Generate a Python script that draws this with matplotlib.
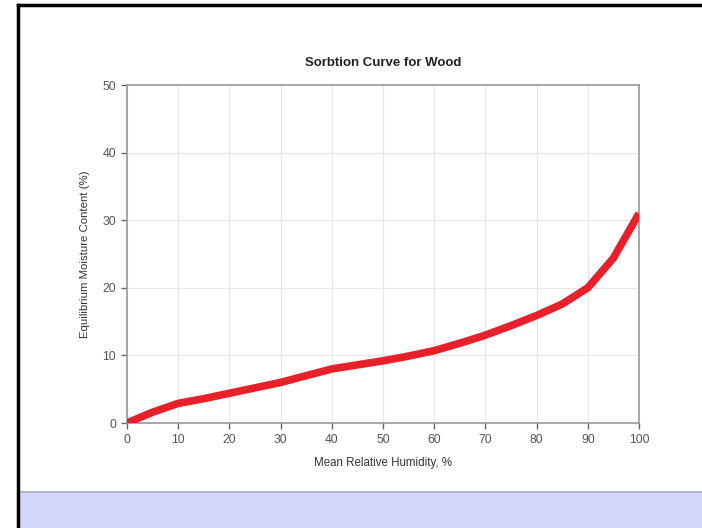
import matplotlib
matplotlib.use("Agg")
import matplotlib.pyplot as plt
from matplotlib.patches import Rectangle
from matplotlib.lines import Line2D

# data
humidity = [0, 5, 10, 15, 20, 25, 30, 35, 40, 45, 50, 55, 60, 65, 70, 75, 80, 85, 90, 95, 100]
moisture = [0, 1.6, 2.9, 3.6, 4.4, 5.2, 6.0, 7.0, 8.0, 8.6, 9.2, 9.9, 10.7, 11.8, 13.0, 14.4, 15.9, 17.6, 20.0, 24.4, 31.0]
x_ticks = [0, 10, 20, 30, 40, 50, 60, 70, 80, 90, 100]
y_ticks = [0, 10, 20, 30, 40, 50]

plt.rcParams['font.family'] = ['Liberation Sans', 'DejaVu Sans']

W, H = 702, 528
fig = plt.figure(figsize=(W / 100, H / 100), dpi=100)
fig.patch.set_facecolor('white')

# page frame + lavender strip at the bottom
fig.patches.append(Rectangle((18 / W, 0), 1, (H - 492) / H, transform=fig.transFigure,
                             facecolor='#d5d8fc', edgecolor='none', zorder=0))
fig.lines.append(Line2D([18 / W, 1], [(H - 492) / H] * 2, transform=fig.transFigure,
                        color='#b4b4c8', lw=1.5))
fig.lines.append(Line2D([17.5 / W, 17.5 / W], [0, (H - 4.5) / H], transform=fig.transFigure,
                        color='black', lw=2.5))
fig.lines.append(Line2D([17.5 / W, 1], [(H - 4.5) / H] * 2, transform=fig.transFigure,
                        color='black', lw=2.5))

ax = fig.add_axes([127 / W, (H - 423) / H, (639 - 127) / W, (423 - 85) / H])
ax.plot(humidity, moisture, color='#e8202a', lw=5.5, solid_capstyle='butt', solid_joinstyle='miter', zorder=3)

ax.set_xlim(0, 100)
ax.set_ylim(0, 50)
ax.set_xticks(x_ticks)
ax.set_yticks(y_ticks)
ax.grid(True, color='#e6e6e6', lw=0.8)
ax.set_axisbelow(True)
for s in ax.spines.values():
    s.set_color('#999999')
    s.set_linewidth(1.2)
ax.tick_params(colors='#666666', labelsize=8.8, length=4, width=1, pad=4)
ax.tick_params(axis='both', labelcolor='#555555')

ax.set_title('Sorbtion Curve for Wood', fontsize=9.5, fontweight='bold', color='#222222', pad=14)
ax.set_xlabel('Mean Relative Humidity, %', fontsize=8.3, color='#333333', labelpad=8)
ax.set_ylabel('Equilibrium Moisture Content (%)', fontsize=8.2, color='#333333', labelpad=9)

fig.savefig('out.png', dpi=100)
